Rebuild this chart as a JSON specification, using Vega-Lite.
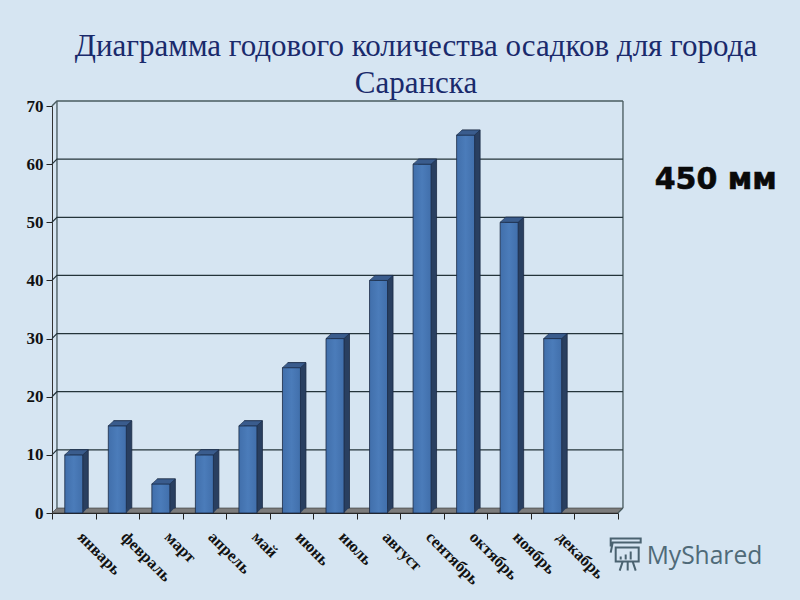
{
"$schema":"https://vega.github.io/schema/vega-lite/v6.json",
"width":566,"height":407,
"autosize":{"type":"none"},
"padding":{"left":52,"top":106,"right":182,"bottom":87},
"background":"#D6E5F2",
"config":{"view":{"stroke":null}},
"title":{"text":["Диаграмма годового количества осадков для города","Саранска"],"font":"Liberation Serif","fontSize":31,"fontWeight":"normal","color":"#1A2A6C","anchor":"middle","dx":81,"dy":15,"lineHeight":37,"offset":12},
"data":{"values":[
{"month":"январь","mm":10},{"month":"февраль","mm":15},{"month":"март","mm":5},{"month":"апрель","mm":10},{"month":"май","mm":15},{"month":"июнь","mm":25},{"month":"июль","mm":30},{"month":"август","mm":40},{"month":"сентябрь","mm":60},{"month":"октябрь","mm":65},{"month":"ноябрь","mm":50},{"month":"декабрь","mm":30}]},
"encoding":{
"x":{"field":"month","type":"nominal","sort":null,"title":null,
"scale":{"domain":["январь","февраль","март","апрель","май","июнь","июль","август","сентябрь","октябрь","ноябрь","декабрь"," "],"paddingInner":0,"paddingOuter":0},
"axis":{"tickBand":"extent","labelAngle":45,"labelAlign":"left","labelBaseline":"middle","labelFont":"Liberation Serif","labelFontSize":16.5,"labelFontWeight":"bold","labelColor":"#111","labelPadding":15,"labelOffset":6,"tickColor":"#222","tickSize":6,"domainColor":"#222","labelOverlap":false,"grid":false}},
"y":{"field":"mm","type":"quantitative","title":null,"scale":{"domain":[0,70],"nice":false},
"axis":{"values":[0,10,20,30,40,50,60,70],"labelFont":"Liberation Serif","labelFontSize":17,"labelFontWeight":"bold","labelColor":"#111","tickColor":"#222","tickSize":6,"domainColor":"#333","grid":false,"labelPadding":3}}
},
"layer":[
{"data":{"values":[{"month":"январь","wall":0}]},
 "mark":{"type":"point","filled":true,"size":4,"opacity":1,"color":"#7C7C7C","stroke":"#333","strokeWidth":0.6,"shape":"M-21.8,0 L544.2,0 L549.2,-5 L-16.8,-5 Z"},
 "encoding":{"y":{"field":"wall","type":"quantitative"}}},
{"data":{"values":[{"month":"январь","wall":0}]},
 "mark":{"type":"point","filled":false,"size":4,"opacity":1,"color":"#46585C","strokeWidth":1.3,"shape":"M-16.8,-5 L-16.8,-412 M549.2,-5 L549.2,-412 M544.2,0 L549.2,-5"},
 "encoding":{"y":{"field":"wall","type":"quantitative"}}},
{"data":{"values":[{"month":"январь","g":10},{"month":"январь","g":20},{"month":"январь","g":30},{"month":"январь","g":40},{"month":"январь","g":50},{"month":"январь","g":60}]},
 "mark":{"type":"point","filled":false,"size":4,"opacity":1,"color":"#24343A","strokeWidth":1.2,"shape":"M-21.8,0 L-16.8,-5 L549.2,-5"},
 "encoding":{"y":{"field":"g","type":"quantitative"}}},
{"data":{"values":[{"month":"январь","g":70}]},
 "mark":{"type":"point","filled":false,"size":4,"opacity":1,"color":"#4A5C60","strokeWidth":1.5,"shape":"M-21.8,0 L-16.8,-5 L549.2,-5"},
 "encoding":{"y":{"field":"g","type":"quantitative"}}},
{"mark":{"type":"bar","width":18,"color":"#293F60","stroke":"#1A2A44","strokeWidth":0.8,"xOffset":5.5,"yOffset":-5,"y2Offset":-5},
 "encoding":{"y2":{"datum":0}}},
{"mark":{"type":"point","filled":true,"size":4,"opacity":1,"color":"#293F60","shape":"M9,0 L9,-6 L14.5,-6 Z"},
 "encoding":{"y":{"datum":0}}},
{"mark":{"type":"bar","width":18,"color":{"x1":0,"x2":1,"y1":0,"y2":0,"gradient":"linear","stops":[{"offset":0,"color":"#416FAB"},{"offset":0.5,"color":"#4B7CBA"},{"offset":1,"color":"#416FAB"}]},"stroke":"#1A2A44","strokeWidth":0.8},
 "encoding":{"y2":{"datum":0}}},
{"mark":{"type":"point","filled":true,"size":4,"opacity":1,"color":"#3A5C8D","stroke":"#1A2A44","strokeWidth":0.6,"shape":"M-9,0 L9,0 L14.5,-5 L-3.5,-5 Z"}},
{"data":{"values":[{"note":"450 мм","month":"декабрь","v":57.3}]},
 "mark":{"type":"text","font":"DejaVu Sans","fontWeight":"bold","fontSize":30,"color":"#0A0A0A","stroke":"#0A0A0A","strokeWidth":0.6,"align":"center","baseline":"middle","clip":false,"dx":163},
 "encoding":{"y":{"field":"v","type":"quantitative"},"text":{"field":"note"}}},
{"data":{"values":[{"note":"MyShared","month":"декабрь","v":-7.5}]},
 "mark":{"type":"text","font":"Open Sans","fontSize":24.6,"color":"#4F6A78","align":"left","baseline":"middle","clip":false,"dx":94},
 "encoding":{"y":{"field":"v","type":"quantitative"},"text":{"field":"note"}}},
{"data":{"values":[{"month":"декабрь","v":-7.5}]},
 "mark":{"type":"point","filled":false,"size":4,"opacity":1,"clip":false,"color":"#4A6270","strokeWidth":2,"shape":"M63,-9 L86,-9 L86,5 L63,5 Z M58,-10 L58,-18 L88,-18 L88,-14 L60,-14 L58,-4 M68,3 L68,0 M73,3 L73,-2 M78,3 L78,-5 M70,5 L67,14 M75,5 L75,14 M80,5 L83,14"},
 "encoding":{"y":{"field":"v","type":"quantitative"}}}
]
}
